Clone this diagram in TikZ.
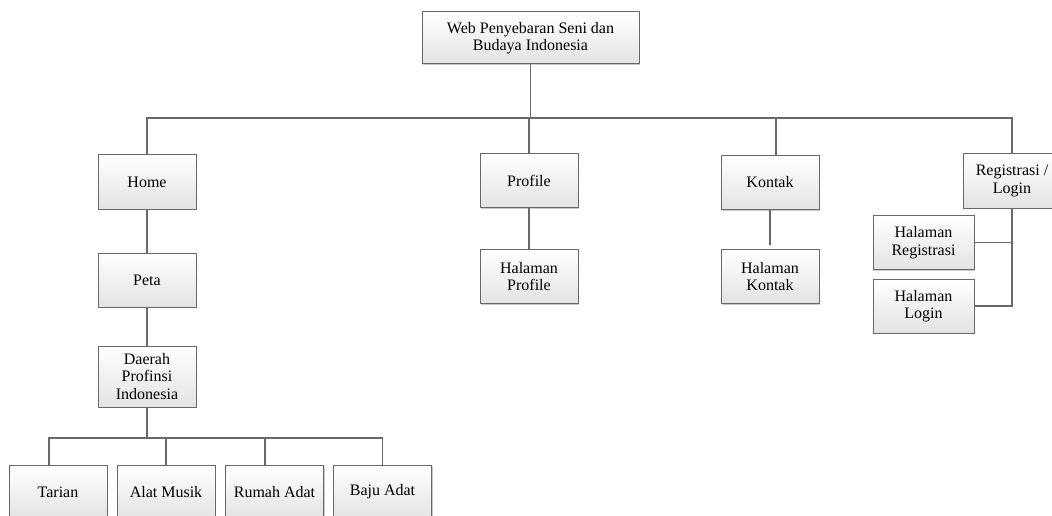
\documentclass[tikz,border=0pt]{standalone}
\usepackage{fontspec}
\setmainfont{Liberation Serif}
\usetikzlibrary{shadows}
\definecolor{edge}{RGB}{105,105,105}
\begin{document}
\begin{tikzpicture}[x=1pt,y=-1pt,
  box/.style={draw=edge, line width=1pt, top color=white, bottom color=black!11,
    align=center, font=\fontsize{16}{17.5}\selectfont, inner sep=0pt,
    minimum width=98pt, minimum height=54pt,
    drop shadow={shadow xshift=1.3pt, shadow yshift=-1.3pt, opacity=0.35, fill=black!60}},
  link/.style={draw=edge, line width=1.3pt}]
\useasboundingbox (0,0) rectangle (1052,516);
\fill[white] (0,0) rectangle (1052,516);
\node[box, minimum width=217pt, minimum height=52pt] (root) at (530.5,38) {Web Penyebaran Seni dan\\Budaya Indonesia};
\node[box] (home) at (147,182) {Home};
\node[box] (peta) at (147,280) {Peta};
\node[box, minimum height=61pt] (daerah) at (147,376.5) {Daerah\\Profinsi\\Indonesia};
\node[box] (tarian) at (58,492) {Tarian};
\node[box] (alat) at (166,492) {Alat Musik};
\node[box] (rumah) at (274.5,492) {Rumah Adat};
\node[box] (baju) at (382.5,492) {Baju Adat};
\node[box] (profile) at (529,180.5) {Profile};
\node[box] (hprofile) at (529,276.5) {Halaman\\Profile};
\node[box] (kontak) at (770,182.5) {Kontak};
\node[box] (hkontak) at (770,276.5) {Halaman\\Kontak};
\node[box] (reg) at (1012,181) {Registrasi /\\Login};
\node[box, minimum width=101pt] (hreg) at (923.5,242.5) {Halaman\\Registrasi};
\node[box, minimum width=101pt] (hlogin) at (923.5,306) {Halaman\\Login};
\coordinate (bus) at (0,118);
\coordinate (bus2) at (0,438);
\coordinate (kin) at ([xshift=6pt]kontak.north);
\coordinate (tin) at ([xshift=-9pt]tarian.north);
\coordinate (rin) at ([xshift=-9.5pt]rumah.north);
\draw[link] (root.south) -- (root.south |- bus);
\draw[link] (home.north) |- (reg.north |- bus) -- (reg.north);
\draw[link] (profile.north) -- (profile.north |- bus);
\draw[link] (kin) -- (kin |- bus);
\draw[link] (home.south) -- (peta.north);
\draw[link] (peta.south) -- (daerah.north);
\draw[link] (daerah.south) -- (daerah.south |- bus2);
\draw[link] (tin) |- (baju.north |- bus2) -- (baju.north);
\draw[link] (alat.north) -- (alat.north |- bus2);
\draw[link] (rin) -- (rin |- bus2);
\draw[link] (profile.south) -- (hprofile.north);
\draw[link] (kontak.south) -- ([yshift=4pt]hkontak.north);
\draw[link] (reg.south) |- (hlogin.east);
\draw[link] (hreg.east) -- (reg.south |- hreg.east);
\end{tikzpicture}
\end{document}
